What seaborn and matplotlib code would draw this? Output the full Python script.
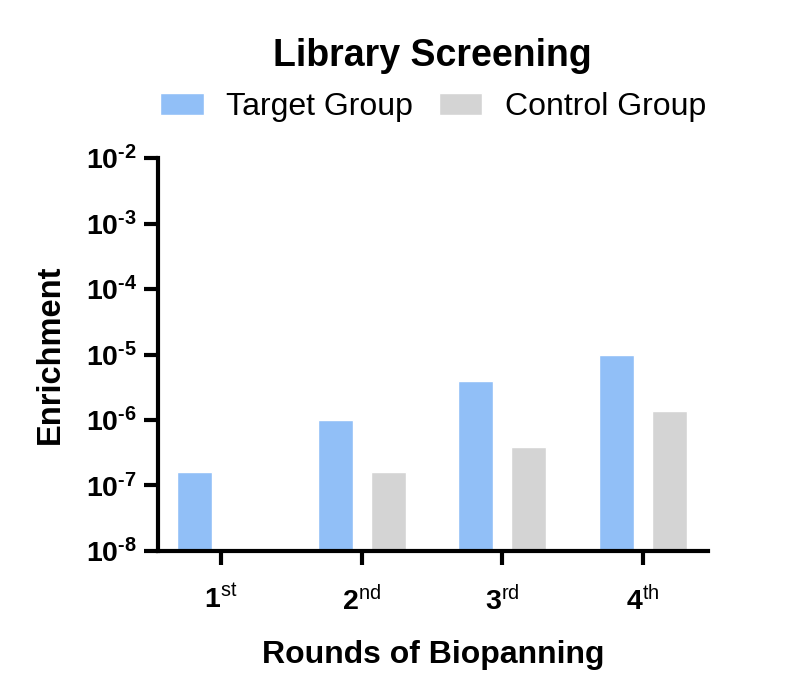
import matplotlib
matplotlib.use("Agg")
import matplotlib.pyplot as plt
import seaborn as sns
import pandas as pd
import numpy as np

rounds = ["1st", "2nd", "3rd", "4th"]
round_labels = [r"$\mathbf{1}^{\mathrm{st}}$", r"$\mathbf{2}^{\mathrm{nd}}$",
                r"$\mathbf{3}^{\mathrm{rd}}$", r"$\mathbf{4}^{\mathrm{th}}$"]
target_vals = [1.6e-7, 1.0e-6, 3.9e-6, 1.0e-5]
control_vals = [np.nan, 1.6e-7, 3.9e-7, 1.35e-6]
groups = ["Target Group", "Control Group"]
colors = ["#91BFF7", "#D4D4D4"]
ytick_vals = [1e-8, 1e-7, 1e-6, 1e-5, 1e-4, 1e-3, 1e-2]
ytick_exps = [-8, -7, -6, -5, -4, -3, -2]
ytick_labels = ["$\\mathbf{10^{\u2010%d}}$" % (-e) for e in ytick_exps]

df = pd.DataFrame({
    "Round": rounds * 2,
    "Group": [groups[0]] * 4 + [groups[1]] * 4,
    "Enrichment": target_vals + control_vals,
})

sns.set_theme(style="ticks")
plt.rcParams["font.family"] = ["Liberation Sans", "DejaVu Sans"]
plt.rcParams["mathtext.fontset"] = "custom"
plt.rcParams["mathtext.rm"] = "Liberation Sans"
plt.rcParams["mathtext.bf"] = "Liberation Sans:bold"
plt.rcParams["mathtext.it"] = "Liberation Sans:italic"
plt.rcParams["text.color"] = "black"
plt.rcParams["axes.labelcolor"] = "black"

fig = plt.figure(figsize=(8, 7), dpi=100)
ax = fig.add_axes([0.1975, 0.213, 0.6875, 0.561])
ax.set_yscale("log")
sns.barplot(data=df, x="Round", y="Enrichment", hue="Group", hue_order=groups,
            palette=colors, width=0.754, gap=0.34, ax=ax, legend=True,
            saturation=1)
ax.set_ylim(1e-8, 1e-2)
ax.set_xlim(-0.448, 3.462)
ax.set_yticks(ytick_vals)
ax.set_yticklabels(ytick_labels)
ax.yaxis.set_minor_locator(matplotlib.ticker.NullLocator())
ax.set_xticks(range(4))
ax.set_xticklabels(round_labels)
for s in ["top", "right"]:
    ax.spines[s].set_visible(False)
for s in ["left", "bottom"]:
    ax.spines[s].set_linewidth(3)
    ax.spines[s].set_color("black")
ax.tick_params(axis="both", width=3, length=10, labelsize=20.5, colors="black")
ax.tick_params(axis="y", pad=5)
ax.tick_params(axis="x", pad=15)
ax.set_xlabel("Rounds of Biopanning", fontsize=23, fontweight="bold", labelpad=17)
ax.set_ylabel("Enrichment", fontsize=23.5, fontweight="bold", labelpad=14)

handles, labels = ax.get_legend_handles_labels()
ax.get_legend().remove()
fig.legend(handles, labels, loc="center", bbox_to_anchor=(0.541, 0.847), ncol=2,
           frameon=False, fontsize=23, handlelength=1.375, handleheight=0.72,
           columnspacing=0.81, handletextpad=0.69)
fig.text(0.54, 0.92, "Library Screening", ha="center", va="center",
         fontsize=27, fontweight="bold")

fig.savefig("out.png", dpi=100)
